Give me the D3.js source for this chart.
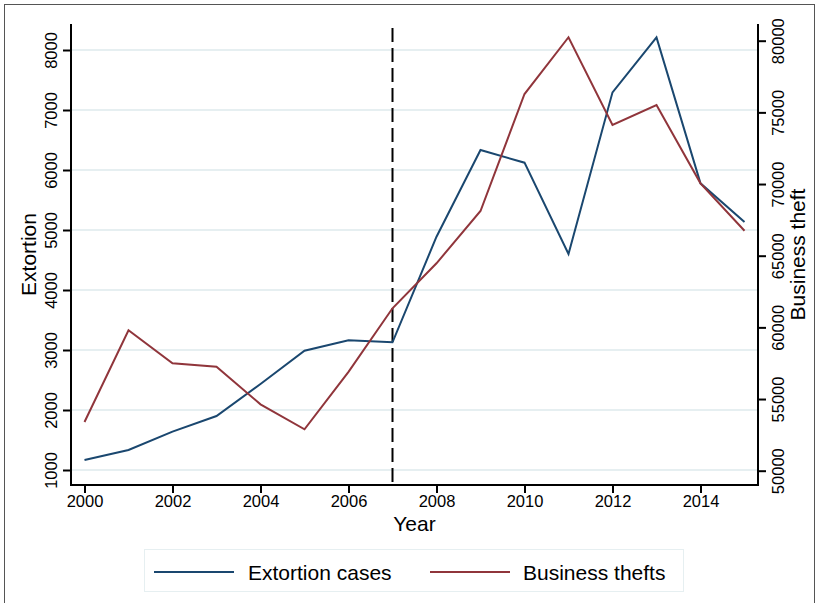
<!DOCTYPE html>
<html>
<head>
<meta charset="utf-8">
<script src="https://cdn.jsdelivr.net/npm/d3@7"></script>
<style>
  html, body { margin: 0; padding: 0; background: #ffffff; }
  svg { display: block; font-family: "Liberation Sans", Arial, Helvetica, sans-serif; }
</style>
</head>
<body>
<svg id="chart" width="818" height="603"></svg>
<script>
// Annual series, 2000–2015
const years = [2000, 2001, 2002, 2003, 2004, 2005, 2006, 2007,
               2008, 2009, 2010, 2011, 2012, 2013, 2014, 2015];
const extortion = [1167, 1333, 1639, 1900, 2433, 2988, 3162, 3128,
                   4888, 6333, 6122, 4600, 7294, 8211, 5778, 5133];
const thefts = [53400, 59800, 57500, 57250, 54630, 52890, 56900, 61330,
                64470, 68120, 76280, 80240, 74120, 75510, 70050, 66740];

const xTicks = [2000, 2002, 2004, 2006, 2008, 2010, 2012, 2014];
const leftTicks = [1000, 2000, 3000, 4000, 5000, 6000, 7000, 8000];
const rightTicks = [50000, 55000, 60000, 65000, 70000, 75000, 80000];
const breakYear = 2007;

const seriesNames = ["Extortion cases", "Business thefts"];
const colors = ["#1a476f", "#90353b"];

const svg = d3.select("#chart");

// Plot region
const pLeft = 71, pRight = 758, pTop = 24, pBottom = 485;
const tickFont = 16.5, titleFont = 21;

const x = d3.scaleLinear().domain([2000, 2015]).range([84.5, 744.5]);
const yL = d3.scaleLinear().domain([1000, 8000]).range([470, 50]);
const yR = d3.scaleLinear().domain([50000, 80000]).range([470.7, 40.7]);

// Outer frame
svg.append("rect").attr("x", 4.5).attr("y", 4.5)
  .attr("width", 810).attr("height", 620)
  .attr("fill", "#ffffff").attr("stroke", "#555555").attr("stroke-width", 1);

// Horizontal grid lines on left-axis ticks
svg.append("g").selectAll("line").data(leftTicks).join("line")
  .attr("x1", pLeft).attr("x2", pRight)
  .attr("y1", d => yL(d)).attr("y2", d => yL(d))
  .attr("stroke", "#e6eff1").attr("stroke-width", 2);

// Left axis
const gL = svg.append("g").attr("transform", `translate(${pLeft},0)`)
  .call(d3.axisLeft(yL).tickValues(leftTicks).tickSize(8).tickFormat(d3.format("d")));
gL.select(".domain").remove();
gL.selectAll(".tick line").attr("stroke", "#000").attr("stroke-width", 2);
gL.selectAll(".tick text")
  .attr("transform", "rotate(-90)")
  .attr("x", 0).attr("y", -14).attr("dy", 0)
  .attr("text-anchor", "middle")
  .attr("font-size", tickFont).attr("fill", "#000");

// Right axis
const gR = svg.append("g").attr("transform", `translate(${pRight},0)`)
  .call(d3.axisRight(yR).tickValues(rightTicks).tickSize(8).tickFormat(d3.format("d")));
gR.select(".domain").remove();
gR.selectAll(".tick line").attr("stroke", "#000").attr("stroke-width", 2);
gR.selectAll(".tick text")
  .attr("transform", "rotate(-90)")
  .attr("x", 0).attr("y", 26).attr("dy", 0)
  .attr("text-anchor", "middle")
  .attr("font-size", tickFont).attr("fill", "#000");

// Bottom axis
const gB = svg.append("g").attr("transform", `translate(0,${pBottom})`)
  .call(d3.axisBottom(x).tickValues(xTicks).tickSize(8).tickFormat(d3.format("d")));
gB.select(".domain").remove();
gB.selectAll(".tick line").attr("stroke", "#000").attr("stroke-width", 2);
gB.selectAll(".tick text")
  .attr("y", 22).attr("dy", 0)
  .attr("font-size", tickFont).attr("fill", "#000");

// Axis lines
svg.append("line").attr("x1", pLeft).attr("x2", pLeft).attr("y1", pTop).attr("y2", pBottom + 1)
  .attr("stroke", "#000").attr("stroke-width", 2);
svg.append("line").attr("x1", pRight).attr("x2", pRight).attr("y1", pTop).attr("y2", pBottom + 1)
  .attr("stroke", "#000").attr("stroke-width", 2);
svg.append("line").attr("x1", pLeft - 1).attr("x2", pRight + 1).attr("y1", pBottom).attr("y2", pBottom)
  .attr("stroke", "#000").attr("stroke-width", 2);

// Reference line at the break year
svg.append("line")
  .attr("x1", x(breakYear)).attr("x2", x(breakYear))
  .attr("y1", 28).attr("y2", pBottom - 1)
  .attr("stroke", "#000").attr("stroke-width", 2)
  .attr("stroke-dasharray", "14,6");

// Series lines
const lineL = d3.line().x((d, i) => x(years[i])).y(d => yL(d));
const lineR = d3.line().x((d, i) => x(years[i])).y(d => yR(d));

svg.append("path").datum(extortion)
  .attr("d", lineL).attr("fill", "none")
  .attr("stroke", colors[0]).attr("stroke-width", 2).attr("stroke-linejoin", "miter");
svg.append("path").datum(thefts)
  .attr("d", lineR).attr("fill", "none")
  .attr("stroke", colors[1]).attr("stroke-width", 2).attr("stroke-linejoin", "miter");

// Axis titles
svg.append("text")
  .attr("transform", `translate(36,${(pTop + pBottom) / 2}) rotate(-90)`)
  .attr("text-anchor", "middle").attr("font-size", titleFont).attr("fill", "#000")
  .text("Extortion");
svg.append("text")
  .attr("transform", `translate(805,${(pTop + pBottom) / 2}) rotate(-90)`)
  .attr("text-anchor", "middle").attr("font-size", titleFont).attr("fill", "#000")
  .text("Business theft");
svg.append("text")
  .attr("x", (pLeft + pRight) / 2).attr("y", 531)
  .attr("text-anchor", "middle").attr("font-size", titleFont).attr("fill", "#000")
  .text("Year");

// Legend
const lg = svg.append("g");
lg.append("rect").attr("x", 144.5).attr("y", 549.5).attr("width", 539).attr("height", 42)
  .attr("fill", "#ffffff").attr("stroke", "#e6eff1").attr("stroke-width", 1);
const items = [
  { name: seriesNames[0], color: colors[0], x0: 154, x1: 234, tx: 248 },
  { name: seriesNames[1], color: colors[1], x0: 430, x1: 510, tx: 523 }
];
items.forEach(it => {
  lg.append("line").attr("x1", it.x0).attr("x2", it.x1).attr("y1", 572).attr("y2", 572)
    .attr("stroke", it.color).attr("stroke-width", 2);
  lg.append("text").attr("x", it.tx).attr("y", 580)
    .attr("font-size", titleFont).attr("fill", "#000").text(it.name);
});
</script>
</body>
</html>
